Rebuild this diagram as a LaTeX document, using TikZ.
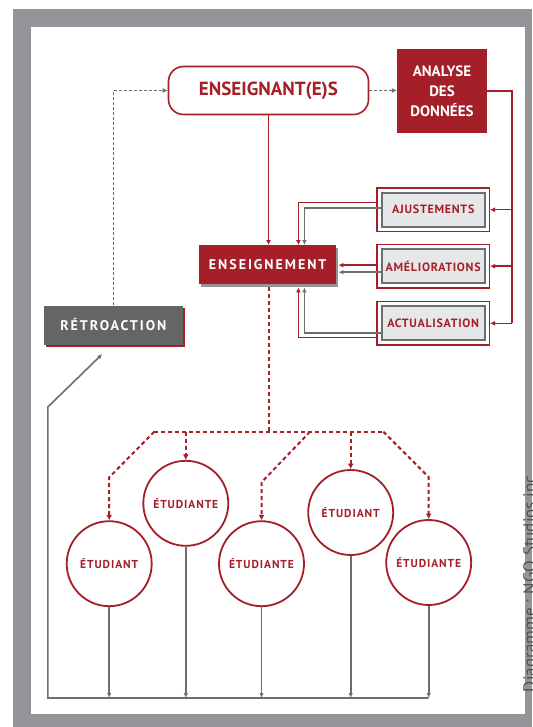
\documentclass[tikz,border=0pt]{standalone}
\usepackage{fontspec}
\setmainfont{PT Sans}
\newfontfamily\spaced{PT Sans}[LetterSpace=8]
\newfontfamily\spacedwide{PT Sans}[LetterSpace=14]
\newfontfamily\spacedsmall{PT Sans}[LetterSpace=6]
\usetikzlibrary{arrows.meta,positioning,calc,fit}
\definecolor{NgoRed}{HTML}{A51F28}
\definecolor{NgoGray}{HTML}{646665}
\definecolor{NgoLine}{HTML}{6D6E71}
\definecolor{NgoLight}{HTML}{E6E7E8}
\definecolor{NgoFrame}{HTML}{939598}
\definecolor{NgoInk}{HTML}{505153}

\begin{document}
\begin{tikzpicture}[x=1pt,y=-1pt,
    every node/.style={font=\bfseries,align=center,inner sep=0pt},
    shadegray/.style={preaction={fill=NgoFrame,transform canvas={xshift=2pt,yshift=-3pt}}},
    shadered/.style={preaction={fill=NgoRed,transform canvas={xshift=2pt,yshift=-2pt}}},
    bigbox/.style={text=white,minimum width=137pt,minimum height=39pt,font={\spacedwide\bfseries\fontsize{14}{16}\selectfont}},
    adjbox/.style={draw=NgoLine,line width=2.2pt,fill=NgoLight,text=NgoRed,minimum width=103pt,minimum height=34pt,font={\spacedsmall\bfseries\fontsize{12}{14}\selectfont}},
    stud/.style={circle,draw=NgoRed,line width=1.8pt,fill=white,minimum size=85pt,text=NgoRed,font={\spaced\bfseries\fontsize{11.5}{13}\selectfont}},
    redarrow/.style={draw=NgoRed,line width=1.6pt,-{Latex[length=5pt,width=5pt]}},
    grayarrow/.style={draw=NgoLine,line width=1.6pt,-{Latex[length=5pt,width=4.5pt]}},
    dotarrow/.style={draw=NgoLine,line width=1.4pt,dash pattern=on 3pt off 2pt,-{Latex[length=5pt,width=5pt]}},
    dashline/.style={draw=NgoRed,line width=2pt,dash pattern=on 4pt off 3pt},
    dasharrow/.style={dashline,-{Latex[length=5.5pt,width=6pt]}}]
  \useasboundingbox (0,0) rectangle (532,727);
  % frame
  \fill[white] (0,0) rectangle (532,727);
  \fill[NgoFrame] (13,9) rectangle (532,727);
  \fill[white] (31,27) rectangle (524.5,714);

  \node[draw=NgoRed,line width=1.6pt,rounded corners=15pt,fill=white,minimum width=200pt,minimum height=48pt,text=NgoRed,font={\bfseries\fontsize{19}{21}\selectfont}] (ens) at (268.5,90.5) {ENSEIGNANT(E)S};
  \node[fill=NgoRed,text=white,minimum width=90pt,minimum height=84pt,font={\bfseries\fontsize{15}{20}\selectfont}] (ana) at (442,91) {ANALYSE\\DES\\DONNÉES};
  \node[bigbox,fill=NgoRed,shadegray] (seig) at (267.7,264.7) {ENSEIGNEMENT};
  \node[bigbox,fill=NgoGray,shadered,minimum width=139pt] (retro) at (113.3,325) {RÉTROACTION};

  \node[adjbox] (aju) at (433.2,209.7) {AJUSTEMENTS};
  \node[adjbox] (ame) at (433.2,266.2) {AMÉLIORATIONS};
  \node[adjbox] (act) at (433.2,323.3) {ACTUALISATION};
  \foreach \b in {aju,ame,act}{\node[draw=NgoRed,line width=1.4pt,fit=(\b),inner sep=3.5pt] (\b-o) {};}

  \node[stud] (s1) at (109.2,563.7) {ÉTUDIANT};
  \node[stud] (s2) at (185.8,503.3) {ÉTUDIANTE};
  \node[stud] (s3) at (261.5,563.7) {ÉTUDIANTE};
  \node[stud] (s4) at (350.7,512.5) {ÉTUDIANT};
  \node[stud] (s5) at (428.7,562.5) {ÉTUDIANTE};

  \node[rotate=90,anchor=north,text=NgoInk,font={\mdseries\fontsize{17}{20}\selectfont}] (credit) at (523,584) {Diagramme : NGO Studios inc};

  % top
  \draw[redarrow] (ens.south) -- (ens.south |- seig.north);
  \draw[dotarrow] (ens.east) -- (ens.east -| ana.west);
  \draw[dotarrow] (retro.north) |- (ens.west);

  % analyse to the three boxes
  \coordinate (bus) at (512,91);
  \draw[NgoRed,line width=1.6pt] (ana.east) -| (bus |- act-o.east);
  \foreach \b in {aju,ame,act}{\draw[redarrow] (bus |- \b-o.east) -- (\b-o.east);}

  % boxes back to enseignement
  \draw[redarrow] ([yshift=7pt]aju-o.west) -| ([xshift=-38pt]seig.north east);
  \draw[grayarrow] ([yshift=1.5pt]aju.west) -| ([xshift=-32pt]seig.north east);
  \draw[redarrow] ([yshift=1pt]ame-o.west) -- ([yshift=1pt,xshift=2pt]ame-o.west -| seig.east);
  \draw[grayarrow] ([yshift=-6pt]ame.west) -- ([yshift=-6pt,xshift=2pt]ame.west -| seig.east);
  \draw[grayarrow] ([yshift=-9.4pt]act.west) -| ([shift={(-32pt,-3pt)}]seig.south east);
  \draw[redarrow] ([yshift=-14pt]act-o.west) -| ([shift={(-38pt,-3pt)}]seig.south east);

  % enseignement to the students
  \coordinate (hl) at (154.3,431.7);
  \coordinate (hm) at (310,431.7);
  \coordinate (hr) at (383.3,431.7);
  \draw[dashline] ([yshift=-3pt,xshift=1.5pt]seig.south) -- ([xshift=1.5pt]seig.south |- hl);
  \draw[dashline] (hl) -- (hr);
  \draw[dasharrow] (hl) -- ([yshift=43pt]s1.north) -- (s1.north);
  \draw[dasharrow] (s2.north |- hl) -- (s2.north);
  \draw[dasharrow] (hm) -- ([yshift=38pt]s3.north) -- (s3.north);
  \draw[dasharrow] (s4.north |- hl) -- (s4.north);
  \draw[dasharrow] (hr) -- ([yshift=42pt]s5.north) -- (s5.north);

  % students back to retroaction
  \coordinate (bl) at (47.8,698);
  \coordinate (kink) at (47.8,407);
  \draw[grayarrow] (s5.south |- bl) -- (bl) -- (kink) -- ([shift={(-11,9.3)}]retro.south);
  \foreach \s in {s1,s2,s3,s4,s5}{\draw[grayarrow] (\s.south) -- (\s.south |- bl);}
\end{tikzpicture}
\end{document}
